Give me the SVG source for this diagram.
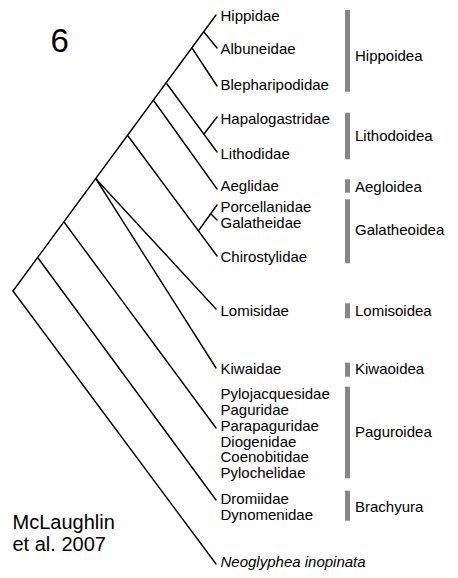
<svg xmlns="http://www.w3.org/2000/svg" width="458" height="578" viewBox="0 0 458 578">
<style>
.t{font-family:"Liberation Sans",Arial,sans-serif;font-size:15px;fill:#000}
.e{stroke:#000;stroke-width:1.4;fill:none;stroke-linecap:round;stroke-linejoin:round}
.bar{fill:#878787}
</style>
<rect width="458" height="578" fill="#fff"/>
<g id="connectors">
<path class="e" d="M13,291 L216,15"/>
<path class="e" d="M13,291 L216,564"/>
<path class="e" d="M38,258 L216,500"/>
<path class="e" d="M64,222 L216,428"/>
<path class="e" d="M96,179 L216,368"/>
<path class="e" d="M96,179 L216,309"/>
<path class="e" d="M128,136 L217,256"/>
<path class="e" d="M199,230 L217,205"/>
<path class="e" d="M211,214 L217,220"/>
<path class="e" d="M154,101 L217,189"/>
<path class="e" d="M167,84 L217,152"/>
<path class="e" d="M204,134 L217,117"/>
<path class="e" d="M192,48 L217,86"/>
<path class="e" d="M204,32 L217,48"/>
</g>
<g id="title"><text x="50.5" y="52.3" style="font-family:'Liberation Sans',Arial,sans-serif;font-size:33px">6</text></g>
<g id="citation">
<text x="12.5" y="528.5" style="font-family:'Liberation Sans',Arial,sans-serif;font-size:20px">McLaughlin</text>
<text x="12.5" y="550.7" style="font-family:'Liberation Sans',Arial,sans-serif;font-size:20px">et al. 2007</text>
</g>
<g id="taxa">
<g id="Hippidae"><text class="t" x="220.5" y="20.7">Hippidae</text></g>
<g id="Albuneidae"><text class="t" x="220.5" y="54">Albuneidae</text></g>
<g id="Blepharipodidae"><text class="t" x="220.5" y="90">Blepharipodidae</text></g>
<g id="Hapalogastridae"><text class="t" x="220.5" y="124">Hapalogastridae</text></g>
<g id="Lithodidae"><text class="t" x="220.5" y="159">Lithodidae</text></g>
<g id="Aeglidae"><text class="t" x="220.5" y="190.7">Aeglidae</text></g>
<g id="Porcellanidae"><text class="t" x="220.5" y="212.3">Porcellanidae</text></g>
<g id="Galatheidae"><text class="t" x="220.5" y="228.3">Galatheidae</text></g>
<g id="Chirostylidae"><text class="t" x="220.5" y="262.3">Chirostylidae</text></g>
<g id="Lomisidae"><text class="t" x="220.5" y="315.7">Lomisidae</text></g>
<g id="Kiwaidae"><text class="t" x="220.5" y="374.3">Kiwaidae</text></g>
<g id="Paguroid-families">
<text class="t" x="220.5" y="399">Pylojacquesidae</text>
<text class="t" x="220.5" y="415">Paguridae</text>
<text class="t" x="220.5" y="430.7">Parapaguridae</text>
<text class="t" x="220.5" y="446.7">Diogenidae</text>
<text class="t" x="220.5" y="462.3">Coenobitidae</text>
<text class="t" x="220.5" y="478.3">Pylochelidae</text>
</g>
<g id="Brachyuran-families">
<text class="t" x="220.5" y="504">Dromiidae</text>
<text class="t" x="220.5" y="519.5">Dynomenidae</text>
</g>
<g id="Neoglyphea"><text class="t" x="220.5" y="567.3" font-style="italic">Neoglyphea inopinata</text></g>
</g>
<g id="groups">
<g id="Hippoidea"><rect class="bar" x="345" y="10" width="5" height="81.7"/><text class="t" x="355" y="60.7">Hippoidea</text></g>
<g id="Lithodoidea"><rect class="bar" x="345" y="112.7" width="5" height="46.6"/><text class="t" x="355" y="141.3">Lithodoidea</text></g>
<g id="Aegloidea"><rect class="bar" x="345" y="179.3" width="5" height="13.4"/><text class="t" x="355" y="191.7">Aegloidea</text></g>
<g id="Galatheoidea"><rect class="bar" x="345" y="199.3" width="5" height="64"/><text class="t" x="355" y="235">Galatheoidea</text></g>
<g id="Lomisoidea"><rect class="bar" x="345" y="303.3" width="5" height="15"/><text class="t" x="355" y="315.7">Lomisoidea</text></g>
<g id="Kiwaoidea"><rect class="bar" x="345" y="362.7" width="5" height="14"/><text class="t" x="355" y="374.3">Kiwaoidea</text></g>
<g id="Paguroidea"><rect class="bar" x="345" y="386.7" width="5" height="91.6"/><text class="t" x="355" y="437.3">Paguroidea</text></g>
<g id="Brachyura"><rect class="bar" x="345" y="490.7" width="5" height="30"/><text class="t" x="355" y="511.7">Brachyura</text></g>
</g>
</svg>
